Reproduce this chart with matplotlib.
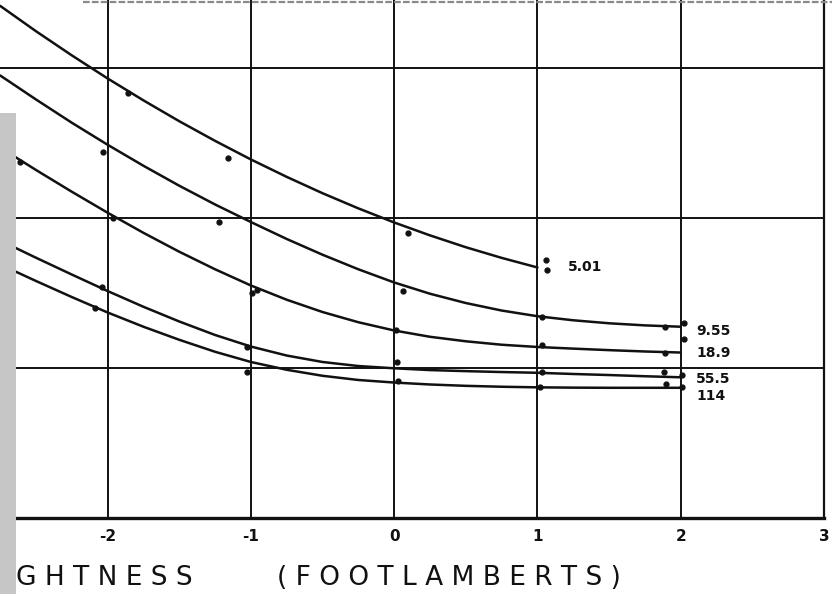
import matplotlib.pyplot as plt
from matplotlib.patches import Rectangle
from matplotlib.lines import Line2D

# log brightness (footlamberts) for the fitted curves
curve_x = [-2.75, -2.5, -2.25, -2.0, -1.75, -1.5, -1.25, -1.0, -0.75, -0.5,
           -0.25, 0.0, 0.25, 0.5, 0.75, 1.0, 1.25, 1.5, 1.75, 2.0]

# fitted curves, one per parameter value (label)
curve_labels = ["5.01", "9.55", "18.9", "55.5", "114"]
curve_501 = [3.414, 3.245, 3.084, 2.930, 2.784, 2.645, 2.514, 2.390, 2.274, 2.165,
             2.064, 1.970, 1.884, 1.805, 1.734, 1.670]
curve_955 = [2.950, 2.790, 2.635, 2.488, 2.348, 2.215, 2.090, 1.973, 1.860, 1.755,
             1.658, 1.570, 1.495, 1.433, 1.383, 1.345, 1.318, 1.298, 1.284, 1.275]
curve_189 = [2.470, 2.320, 2.175, 2.035, 1.901, 1.775, 1.658, 1.550, 1.455, 1.373,
             1.305, 1.250, 1.208, 1.178, 1.155, 1.140, 1.129, 1.119, 1.110, 1.103]
curve_555 = [1.850, 1.735, 1.623, 1.513, 1.408, 1.310, 1.220, 1.143, 1.083, 1.040,
             1.013, 0.998, 0.986, 0.979, 0.973, 0.968, 0.960, 0.953, 0.945, 0.938]
curve_114 = [1.690, 1.580, 1.473, 1.370, 1.275, 1.188, 1.108, 1.040, 0.988, 0.948,
             0.920, 0.903, 0.890, 0.881, 0.875, 0.871, 0.869, 0.868, 0.868, 0.868]

# measured points
pts_501_x = [-1.86, -1.16, 0.10, 1.06, 1.07]
pts_501_y = [2.83, 2.40, 1.90, 1.72, 1.65]
pts_955_x = [-2.03, -1.22, 0.06, 1.03, 1.89, 2.02]
pts_955_y = [2.44, 1.97, 1.51, 1.34, 1.27, 1.30]
pts_189_x = [-2.61, -1.96, -0.99, -0.96, 0.01, 1.03, 1.89, 2.02]
pts_189_y = [2.37, 2.00, 1.50, 1.52, 1.25, 1.15, 1.10, 1.19]
pts_555_x = [-2.04, -1.03, 0.02, 1.03, 1.88, 2.01]
pts_555_y = [1.54, 1.14, 1.04, 0.97, 0.97, 0.95]
pts_114_x = [-2.09, -1.03, 0.03, 1.02, 1.90, 2.01]
pts_114_y = [1.40, 0.97, 0.91, 0.87, 0.89, 0.87]

x_ticks = [-2, -1, 0, 1, 2, 3]
x_tick_labels = ["-2", "-1", "0", "1", "2", "3"]

curves = [curve_501, curve_955, curve_189, curve_555, curve_114]
points = [(pts_501_x, pts_501_y), (pts_955_x, pts_955_y), (pts_189_x, pts_189_y),
          (pts_555_x, pts_555_y), (pts_114_x, pts_114_y)]
# label offsets from curve end (points)
label_dx = [22, 11, 11, 11, 11]
label_dy = [0, -3, 0, -1, -6]

ink = "#111111"

fig = plt.figure(figsize=(8.32, 5.94), dpi=100)
ax = fig.add_axes([0, 76 / 594, 824 / 832, 518 / 594])
ax.set_xlim(-2.751, 3.0)
ax.set_ylim(0, 3.453)

for ys, (px, py), lab, dx, dy in zip(curves, points, curve_labels, label_dx, label_dy):
    xs = curve_x[:len(ys)]
    ax.plot(xs, ys, color=ink, lw=1.8, solid_capstyle="round", solid_joinstyle="round")
    ax.plot(px, py, "o", color=ink, ms=3.5)
    ax.annotate(lab, xy=(xs[-1], ys[-1]), xytext=(dx, dy), textcoords="offset points",
                ha="left", va="center", fontsize=10, fontweight="bold", color=ink)

ax.set_xticks(x_ticks)
ax.set_xticklabels(x_tick_labels, fontsize=11, fontweight="bold", color=ink)
ax.set_yticks([1, 2, 3])
ax.tick_params(axis="both", length=0, pad=8)
ax.tick_params(axis="y", labelleft=False)
ax.grid(True, color=ink, lw=1.4)

ax.spines["top"].set_visible(False)
ax.spines["left"].set_visible(False)
ax.spines["bottom"].set_linewidth(2.4)
ax.spines["right"].set_linewidth(1.6)
ax.spines["bottom"].set_color(ink)
ax.spines["right"].set_color(ink)

# axis title (left part cut off in the scan)
fig.text(16 / 832, 1 - 578 / 594, "G H T N E S S", fontsize=19, color=ink,
         ha="left", va="center")
fig.text(277 / 832, 1 - 578 / 594, "( F O O T L A M B E R T S )", fontsize=19, color=ink,
         ha="left", va="center")

# scan artefacts: grey strip at left, thin line at top
fig.add_artist(Rectangle((0, 0), 16 / 832, (594 - 113) / 594, transform=fig.transFigure,
                         facecolor="#c6c6c6", edgecolor="none", zorder=10))
fig.add_artist(Line2D([83 / 832, 1], [1 - 2 / 594, 1 - 2 / 594], transform=fig.transFigure,
                      color="#8a8a8a", lw=1.6, ls=(0, (3, 1)), zorder=10))

fig.savefig("out.png", dpi=100)
